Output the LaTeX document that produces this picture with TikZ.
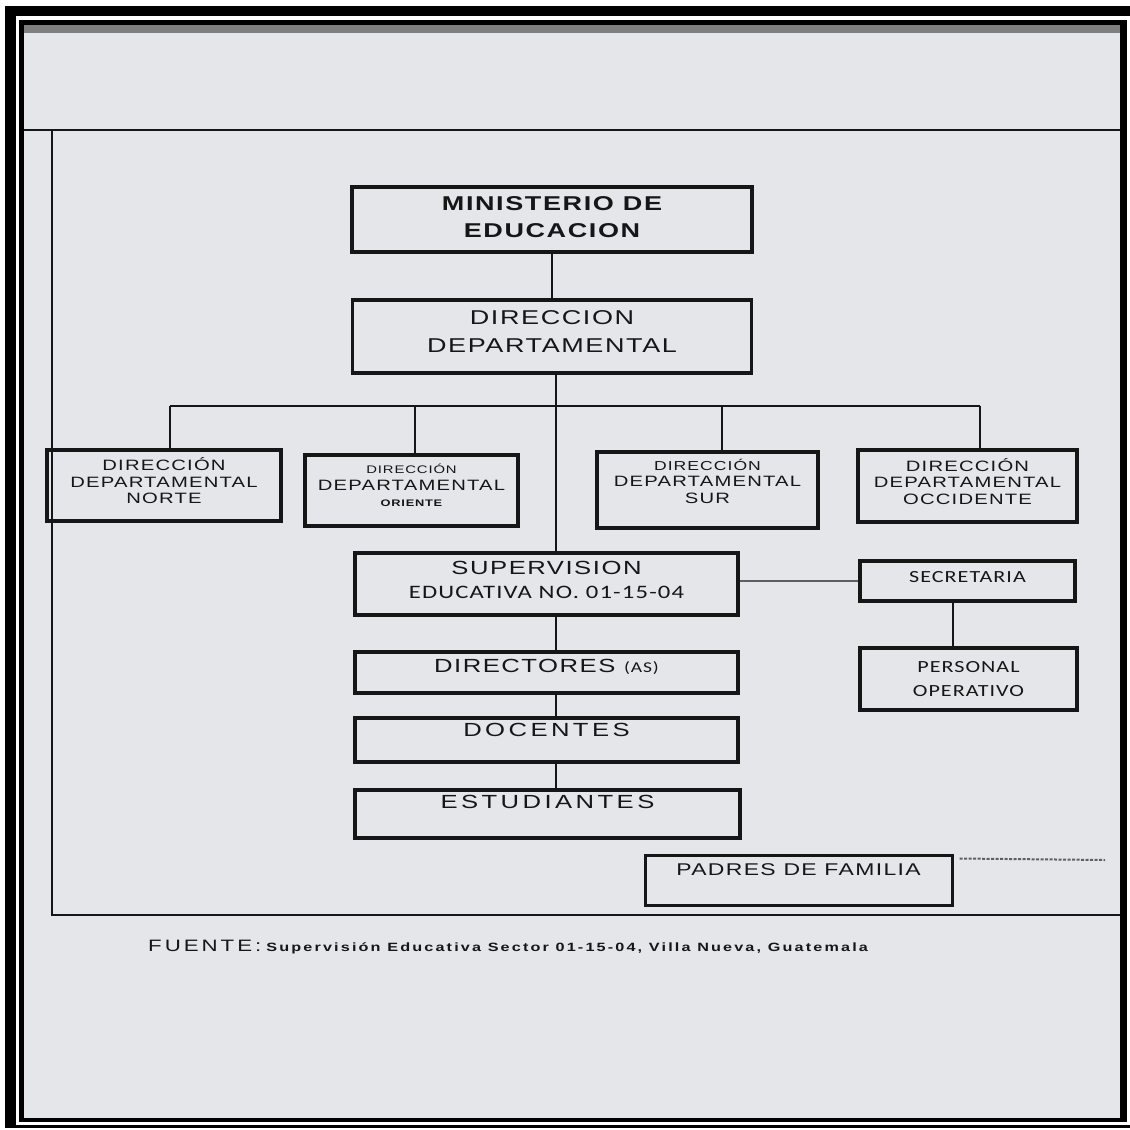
\documentclass[tikz,border=0pt]{standalone}
\usepackage{fontspec}
\setmainfont{Liberation Sans}
\newfontfamily\orgfont[LetterSpace=8,FakeStretch=1.35]{Liberation Sans}
\newfontfamily\orgwide[LetterSpace=18,FakeStretch=1.35]{Liberation Sans}
\newfontfamily\orgcal[LetterSpace=6,FakeStretch=1.3]{Carlito}
\definecolor{ink}{RGB}{22,22,22}
\definecolor{page}{RGB}{228,230,234}
\definecolor{wire}{RGB}{95,95,95}

\begin{document}
\begin{tikzpicture}
[x=1pt,y=-1pt,
  box/.style={draw=ink,line width=3.5pt,align=center,inner sep=0pt,text=ink},
  dir box/.style={box,font=\orgfont\fontsize{15}{16.5}\selectfont,text depth=10pt},
  main box/.style={box,font=\orgfont\fontsize{19}{24}\selectfont},
  link/.style={draw=ink,line width=2pt},
  frame/.style={draw=ink,line width=2.5pt}]

  % scanned sheet and black border
  \useasboundingbox (0,0) rectangle (1130,1130);
  \fill[white] (0,0) rectangle (1130,1130);
  \fill[black] (5,6) rectangle (1140,1128);
  \fill[white] (16,16) rectangle (1130,1125);
  \fill[black] (19,20) rectangle (1127,1122);
  \fill[page] (24,25) rectangle (1120,1118);
  \fill[wire!80] (24,25) rectangle (1120,33);
  \draw[frame] (24,130) -- (1120,130);
  \draw[frame] (52,130) -- (52,915) -- (1120,915);

  \node[box,minimum width=400,minimum height=65,text depth=4pt,
        font=\orgfont\bfseries\fontsize{20}{27}\selectfont] (mined) at (552,219.5) {MINISTERIO DE\\EDUCACION};
  \node[main box,minimum width=399,minimum height=73,text depth=9pt,
        font=\orgfont\fontsize{20}{28}\selectfont] (dirdep) at (552,336.5) {DIRECCION\\DEPARTAMENTAL};

  % branch points of the bus
  \coordinate (bus) at (556,406);
  \coordinate (tnorte) at (170,406);
  \coordinate (toriente) at (415,406);
  \coordinate (tsur) at (722,406);
  \coordinate (toccidente) at (980,406);

  \node[dir box,minimum width=234,minimum height=71] (norte) at (164,485.5) {DIRECCIÓN\\DEPARTAMENTAL\\NORTE};
  \node[dir box,minimum width=213,minimum height=71] (oriente) at (411.5,490.5)
    {{\fontsize{11}{16.5}\selectfont DIRECCIÓN}\\DEPARTAMENTAL\\{\bfseries\fontsize{9.5}{16.5}\selectfont ORIENTE}};
  \node[dir box,minimum width=221,minimum height=76,text depth=18pt] (sur) at (707.5,490)
    {{\fontsize{13}{16.5}\selectfont DIRECCIÓN}\\DEPARTAMENTAL\\SUR};
  \node[dir box,minimum width=219,minimum height=72] (occidente) at (967.5,486) {DIRECCIÓN\\DEPARTAMENTAL\\OCCIDENTE};

  \node[main box,minimum width=383,minimum height=62,text depth=8pt] (sup) at (546.5,584)
    {SUPERVISION\\{\orgcal\fontsize{19}{24}\selectfont EDUCATIVA NO. 01-15-04}};
  \node[box,minimum width=215,minimum height=40,text depth=8pt,
        font=\orgcal\fontsize{17}{22}\selectfont] (secre) at (967.5,581) {SECRETARIA};
  \node[box,minimum width=217,minimum height=62,font=\orgcal\fontsize{17}{24}\selectfont] (personal) at (968.5,679) {PERSONAL\\OPERATIVO};

  \node[main box,minimum width=383,minimum height=41,text depth=13pt] (directores) at (546.5,672.5)
    {DIRECTORES {\orgcal\fontsize{15}{20}\selectfont(AS)}};
  \node[main box,minimum width=383,minimum height=44,text depth=20pt,
        font=\orgwide\fontsize{19}{24}\selectfont] (docentes) at (546.5,740) {DOCENTES};
  \node[main box,minimum width=385,minimum height=48,text depth=24pt,
        font=\orgwide\fontsize{19}{24}\selectfont] (estudiantes) at (547.5,814) {ESTUDIANTES};
  \node[box,line width=3pt,minimum width=307,minimum height=50,text depth=20pt,
        font=\orgfont\fontsize{17}{22}\selectfont] (padres) at (798.5,880) {PADRES DE FAMILIA};
  \coordinate (padrestail) at (1105,860);

  \node[anchor=base west,inner sep=0pt,text=ink] (fuente) at (148,951)
    {{\orgwide\fontsize{16.5}{18}\selectfont FUENTE:}\hspace{5pt}{\orgwide\bfseries\fontsize{12}{12}\selectfont Supervisión Educativa Sector 01-15-04, Villa Nueva, Guatemala}};

  \path[link]
    (mined) edge (dirdep)
    (dirdep.south -| bus) edge (sup.north -| bus)
    (tnorte) edge (toccidente)
    (tnorte) edge (tnorte |- norte.north)
    (toriente) edge (toriente |- oriente.north)
    (tsur) edge (tsur |- sur.north)
    (toccidente) edge (toccidente |- occidente.north)
    (sup.south -| bus) edge (directores.north -| bus)
    (directores.south -| bus) edge (docentes.north -| bus)
    (docentes.south -| bus) edge (estudiantes.north -| bus)
    ([xshift=-15pt]secre.south) edge ([xshift=-15pt]secre.south |- personal.north);
  \draw[wire,line width=1.8pt] (secre.west) -- (secre.west -| sup.east);
  \draw[wire,line width=2pt,dash pattern=on 3pt off 1.5pt] ([xshift=6pt,yshift=-5pt]padres.north east) -- (padrestail);
\end{tikzpicture}
\end{document}
